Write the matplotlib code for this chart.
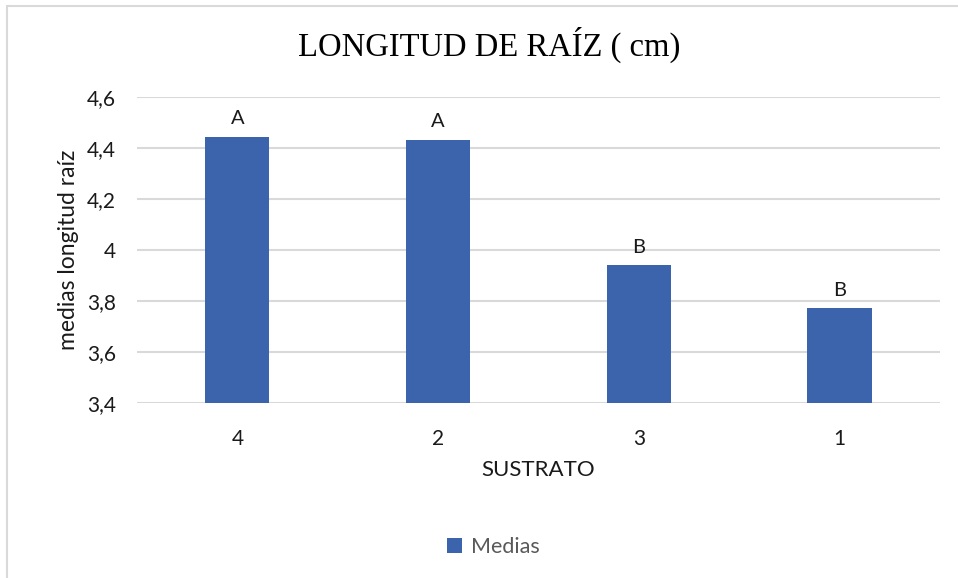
import matplotlib.pyplot as plt
from matplotlib.patches import Rectangle

sustrato = ['4', '2', '3', '1']
medias = [4.443, 4.430, 3.939, 3.770]
letras = ['A', 'A', 'B', 'B']
yticks = [3.4, 3.6, 3.8, 4.0, 4.2, 4.4, 4.6]
ytick_labels = ['3,4', '3,6', '3,8', '4', '4,2', '4,4', '4,6']

bar_color = '#3B64AD'
grid_color = '#D9D9D9'
sans = ['Lato', 'DejaVu Sans']

fig = plt.figure(figsize=(9.58, 5.78), dpi=100)
ax = fig.add_axes([0.143, 0.3033, 0.838, 0.5294])

x = range(len(sustrato))
ax.bar(x, [m - 3.4 for m in medias], bottom=3.4, width=0.32,
       color=bar_color, zorder=3, label='Medias')

for xi, m, l in zip(x, medias, letras):
    ax.annotate(l, (xi, m), xytext=(0, 7), textcoords='offset points',
                ha='center', va='bottom', fontsize=14.5, family=sans,
                color='#1a1a1a')

ax.set_xlim(-0.5, len(sustrato) - 0.5)
ax.set_ylim(3.4, 4.6)
ax.set_yticks(yticks)
ax.set_yticklabels(ytick_labels)
ax.set_xticks(list(x))
ax.set_xticklabels(sustrato)
ax.tick_params(length=0, labelsize=15, labelcolor='#1a1a1a')
for lab in ax.get_xticklabels() + ax.get_yticklabels():
    lab.set_family(sans)
ax.tick_params(axis='x', pad=19)
ax.tick_params(axis='y', pad=15)

ax.grid(axis='y', color=grid_color, linewidth=1.5, zorder=0)
for s in ax.spines.values():
    s.set_visible(False)

ax.set_xlabel('SUSTRATO', fontsize=16, family=sans, color='#1a1a1a',
              labelpad=8)
ax.set_ylabel('medias longitud raíz', fontsize=16.5, family=sans,
              color='#1a1a1a', labelpad=6)

fig.text(0.511, 0.922, 'LONGITUD DE RAÍZ ( cm)', ha='center', va='center',
         fontsize=23.5, family=['Liberation Serif', 'DejaVu Serif'])

fig.legend(loc='center', bbox_to_anchor=(0.515, 0.053), frameon=False,
           prop={'family': sans, 'size': 15.5}, labelcolor='#595959',
           handlelength=0.7, handleheight=0.7, handletextpad=0.4)

fig.patches.append(Rectangle((0.007, -0.01), 1.0, 1.0, transform=fig.transFigure,
                             fill=False, edgecolor='#D9D9D9', linewidth=1.5))

fig.savefig('out.png', dpi=100)
